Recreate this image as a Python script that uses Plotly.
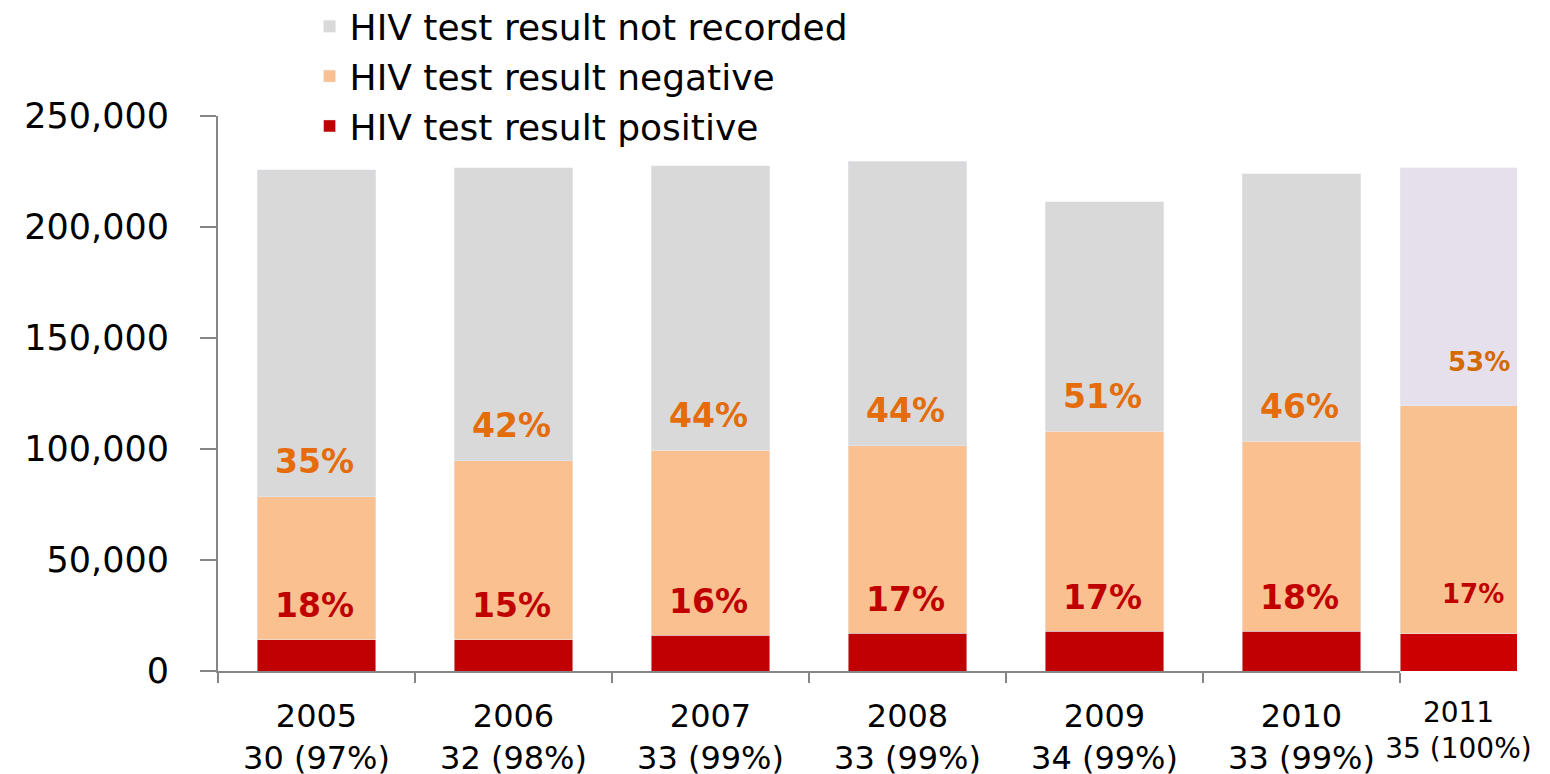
import plotly.graph_objects as go

years = ["2005", "2006", "2007", "2008", "2009", "2010", "2011"]
sites = ["30 (97%)", "32 (98%)", "33 (99%)", "33 (99%)", "34 (99%)", "33 (99%)", "35 (100%)"]
positive = [14000, 14000, 16200, 17100, 18000, 18000, 16700]
negative = [64400, 80600, 83300, 84300, 90100, 85600, 102700]
not_recorded = [147300, 132000, 128000, 128300, 103200, 120300, 107200]
pct_positive = ["18%", "15%", "16%", "17%", "17%", "18%", "17%"]
pct_negative = ["35%", "42%", "44%", "44%", "51%", "46%", "53%"]
y_ticks = [0, 50000, 100000, 150000, 200000, 250000]

FONT = "DejaVu Sans"
C_GREY, C_PEACH, C_RED = "#D9D9D9", "#FAC090", "#C00000"
C_LAV, C_PEACH2, C_RED2 = "#E6E0EC", "#F9C090", "#CC0000"
C_ORANGE, C_ORANGE2 = "#E46C0A", "#D26A00"

main_years = years[:-1]
W, H, L, R, T, B = 1550, 774, 210, 41, 108, 111
dom_split = (1392 - L) / (W - L - R)

fig = go.Figure()
series = [
    ("HIV test result positive", positive, C_RED, C_RED2, 3),
    ("HIV test result negative", negative, C_PEACH, C_PEACH2, 2),
    ("HIV test result not recorded", not_recorded, C_GREY, C_LAV, 1),
]
for name, vals, c_main, c_last, rank in series:
    fig.add_trace(go.Bar(x=main_years, y=vals[:-1], name=name, marker_color=c_main,
                         width=0.6, xaxis="x", yaxis="y", legendgroup=name,
                         legendrank=rank, hoverinfo="skip"))
    fig.add_trace(go.Bar(x=years[-1:], y=vals[-1:], name=name, marker_color=c_last,
                         width=1.0, xaxis="x2", yaxis="y", legendgroup=name,
                         legendrank=rank, showlegend=False, hoverinfo="skip"))

for i, yr in enumerate(years):
    last = i == len(years) - 1
    xref = "x2" if last else "x"
    xpos = 0 if last else i
    fs = 26 if last else 33
    fig.add_annotation(x=xpos, y=positive[i], xref=xref, yref="y",
                       text=f"<b>{pct_positive[i]}</b>", showarrow=False,
                       yanchor="middle", yshift=40 if last else 34,
                       xshift=14 if last else -2,
                       font=dict(family=FONT, size=fs, color=C_RED))
    fig.add_annotation(x=xpos, y=positive[i] + negative[i], xref=xref, yref="y",
                       text=f"<b>{pct_negative[i]}</b>", showarrow=False,
                       yanchor="middle", yshift=44 if last else 35,
                       xshift=20 if last else -2,
                       font=dict(family=FONT, size=fs,
                                 color=C_ORANGE2 if last else C_ORANGE))

fig.update_layout(
    width=W, height=H,
    margin=dict(l=L, r=R, t=T, b=B, autoexpand=False),
    paper_bgcolor="white", plot_bgcolor="white",
    barmode="stack",
    font=dict(family=FONT, color="black"),
    showlegend=True,
    legend=dict(x=0.0705, y=1.2155, xanchor="left", yanchor="top",
                traceorder="grouped", tracegroupgap=0,
                font=dict(family=FONT, size=36, color="black"),
                bgcolor="rgba(0,0,0,0)"),
    xaxis=dict(domain=[0, dom_split], type="category", range=[-0.5, 5.5],
               tickmode="array", tickvals=main_years,
               ticktext=[f"{y}<br>{s}" for y, s in zip(main_years, sites[:-1])],
               showline=True, linecolor="#868686", linewidth=2,
               ticks="outside", tickson="boundaries", ticklen=10,
               tickcolor="#868686", tickwidth=2, showgrid=False,
               ticklabelstandoff=16, automargin=False,
               tickfont=dict(family=FONT, size=32, color="black")),
    xaxis2=dict(domain=[dom_split, 1], type="category", range=[-0.5, 0.5], anchor="y",
                tickmode="array", tickvals=years[-1:],
                ticktext=[f"{years[-1]}<br>{sites[-1]}"],
                showline=False, ticks="", showgrid=False,
                ticklabelstandoff=22, automargin=False,
                tickfont=dict(family=FONT, size=28, color="black")),
    yaxis=dict(range=[0, 250000], tickmode="array", tickvals=y_ticks,
               ticktext=[f"{v:,}" for v in y_ticks],
               showline=True, linecolor="#868686", linewidth=2,
               ticks="outside", ticklen=16, tickcolor="#868686", tickwidth=2,
               showgrid=False, zeroline=False, ticklabelstandoff=24, automargin=False,
               tickfont=dict(family=FONT, size=35, color="black")),
)

fig.write_html("out.html")
